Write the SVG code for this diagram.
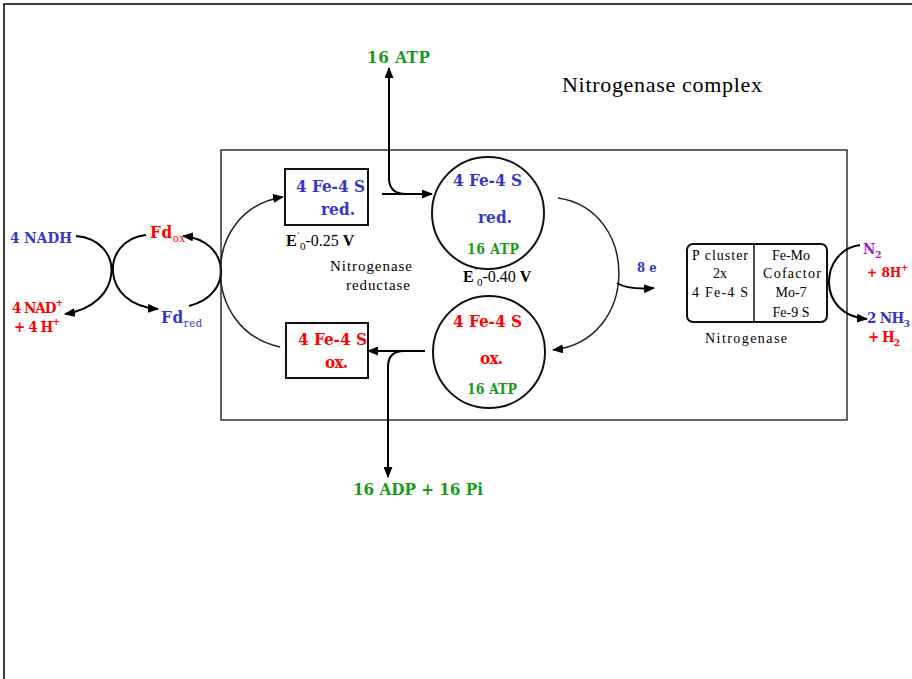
<svg xmlns="http://www.w3.org/2000/svg" width="912" height="679" viewBox="0 0 912 679">
<style>
text{font-family:"Liberation Serif","Times New Roman",serif}
.b{font-weight:bold;font-family:"DejaVu Serif Condensed","DejaVu Serif","Liberation Serif",serif}
.blue{fill:#3535c8}
.red{fill:#ff0000}
.green{fill:#1a9a1a}
.purple{fill:#9a1ad0}
.blk{fill:#000}
.line{fill:none;stroke:#000;stroke-width:2}
.thin{fill:none;stroke:#222;stroke-width:1.5}
.shape{fill:#fff;stroke:#111;stroke-width:2}
</style>
<defs>
<marker id="arr" markerUnits="userSpaceOnUse" markerWidth="11" markerHeight="9" refX="10" refY="4.5" orient="auto">
<path d="M0,0 L11,4.5 L0,9 z" fill="#000"/>
</marker>
</defs>
<rect width="912" height="679" fill="#fff"/>
<path d="M4,679 L4,4 L912,4" fill="none" stroke="#000" stroke-width="1.5"/>
<g id="complex">
<rect x="221" y="150" width="626" height="270" fill="none" stroke="#333" stroke-width="1.5"/>
<text x="562" y="92" font-size="22" textLength="200" class="blk">Nitrogenase complex</text>
</g>
<g id="connectors">
<path class="line" d="M76,236 C125,240 125,305 65,314" marker-end="url(#arr)"/>
<path class="line" d="M146,235 C100,240 100,305 158,309" marker-end="url(#arr)"/>
<path class="line" d="M189,306 C235,295 230,240 183,236" marker-end="url(#arr)"/>
<path class="thin" d="M280,347 C200,330 200,210 283,197" marker-end="url(#arr)"/>
<path class="line" d="M389,180 L389,68" marker-end="url(#arr)"/>
<path class="line" d="M389,178 Q389,194 406,194"/>
<path class="line" d="M382,194 L432,194" marker-end="url(#arr)"/>
<path class="thin" d="M558,198 C640,210 640,340 553,350" marker-end="url(#arr)"/>
<path class="line" d="M617,283 Q628,290 654,288" marker-end="url(#arr)"/>
<path class="line" d="M425,351 L368,351" marker-end="url(#arr)"/>
<path class="line" d="M404,351 Q388,351 388,367"/>
<path class="line" d="M388,365 L388,477" marker-end="url(#arr)"/>
<path class="line" d="M860,245 C820,250 815,315 867,319" marker-end="url(#arr)"/>
</g>
<g id="nadh">
<text x="10" y="243" font-size="15" class="b blue" textLength="62">4 NADH</text>
</g>
<g id="nad">
<text x="12" y="313" font-size="15" class="b red" textLength="51">4 NAD<tspan font-size="10" dy="-7">+</tspan></text>
<text x="14" y="332" font-size="15" class="b red" textLength="46">+ 4 H<tspan font-size="10" dy="-7">+</tspan></text>
</g>
<g id="fdox">
<text x="150" y="238" font-size="17" class="b red" textLength="35">Fd<tspan font-size="11" dy="4" font-weight="normal">ox</tspan></text>
</g>
<g id="fdred">
<text x="161" y="323" font-size="17" class="b blue" textLength="41">Fd<tspan font-size="11" dy="4" font-weight="normal">red</tspan></text>
</g>
<g id="atp-in">
<text x="367" y="63" font-size="17" class="b green" textLength="63">16 ATP</text>
</g>
<g id="adp-out">
<text x="353" y="495" font-size="17" class="b green" textLength="130">16 ADP + 16 Pi</text>
</g>
<g id="fe4s-red-box">
<rect x="285" y="169" width="83" height="56" class="shape"/>
<text x="296" y="192" font-size="17" class="b blue" textLength="69">4 Fe-4 S</text>
<text x="321" y="215" font-size="17" class="b blue" textLength="34">red.</text>
<text x="286" y="246" font-size="16" class="blk"><tspan font-weight="bold">E</tspan><tspan font-size="10" dy="-6">`</tspan><tspan font-size="11" dy="10">0</tspan><tspan dy="-4">-0.25  </tspan><tspan font-weight="bold">V</tspan></text>
<text x="330" y="271" font-size="15" class="blk" textLength="82">Nitrogenase</text>
<text x="346" y="290" font-size="15" class="blk" textLength="64">reductase</text>
</g>
<g id="fe4s-red-circle">
<circle cx="488" cy="213" r="56" class="shape"/>
<text x="453" y="186" font-size="17" class="b blue" textLength="69">4 Fe-4 S</text>
<text x="478" y="223" font-size="17" class="b blue" textLength="34">red.</text>
<text x="467" y="254" font-size="14" class="b green" textLength="52">16 ATP</text>
<text x="463" y="282" font-size="16" class="blk"><tspan font-weight="bold">E</tspan><tspan font-size="10" dy="-6">`</tspan><tspan font-size="11" dy="10">0</tspan><tspan dy="-4">-0.40  </tspan><tspan font-weight="bold">V</tspan></text>
</g>
<g id="electrons">
<text x="637" y="272" font-size="13" class="b blue">8 e</text>
</g>
<g id="fe4s-ox-circle">
<circle cx="489" cy="352" r="56" class="shape"/>
<text x="453" y="327" font-size="17" class="b red" textLength="69">4 Fe-4 S</text>
<text x="480" y="364" font-size="17" class="b red" textLength="23">ox.</text>
<text x="467" y="394" font-size="14" class="b green" textLength="50">16 ATP</text>
</g>
<g id="fe4s-ox-box">
<rect x="286" y="323" width="82" height="55" class="shape"/>
<text x="298" y="345" font-size="17" class="b red" textLength="69">4 Fe-4 S</text>
<text x="325" y="368" font-size="17" class="b red" textLength="23">ox.</text>
</g>
<g id="nitrogenase">
<rect x="687" y="244" width="140" height="78" rx="6" class="shape" stroke-width="1.5"/>
<line x1="754" y1="244" x2="754" y2="322" stroke="#111" stroke-width="1.5"/>
<g font-size="14" class="blk" text-anchor="middle">
<text x="720" y="260" textLength="56">P cluster</text>
<text x="720" y="278">2x</text>
<text x="720" y="297" textLength="56">4 Fe-4 S</text>
<text x="791" y="260">Fe-Mo</text>
<text x="792" y="278" textLength="58">Cofactor</text>
<text x="791" y="297">Mo-7</text>
<text x="791" y="317">Fe-9 S</text>
</g>
<text x="705" y="343" font-size="14" class="blk" textLength="82">Nitrogenase</text>
</g>
<g id="n2">
<text x="863" y="254" font-size="15" class="b purple">N<tspan font-size="10" dy="4">2</tspan></text>
<text x="867" y="277" font-size="13.5" class="b red">+ 8H<tspan font-size="9" dy="-6">+</tspan></text>
</g>
<g id="nh3">
<text x="867" y="323" font-size="15" class="b blue" textLength="43">2 NH<tspan font-size="10" dy="4">3</tspan></text>
<text x="868" y="342" font-size="15" class="b red" textLength="32">+ H<tspan font-size="10" dy="4">2</tspan></text>
</g>
</svg>
